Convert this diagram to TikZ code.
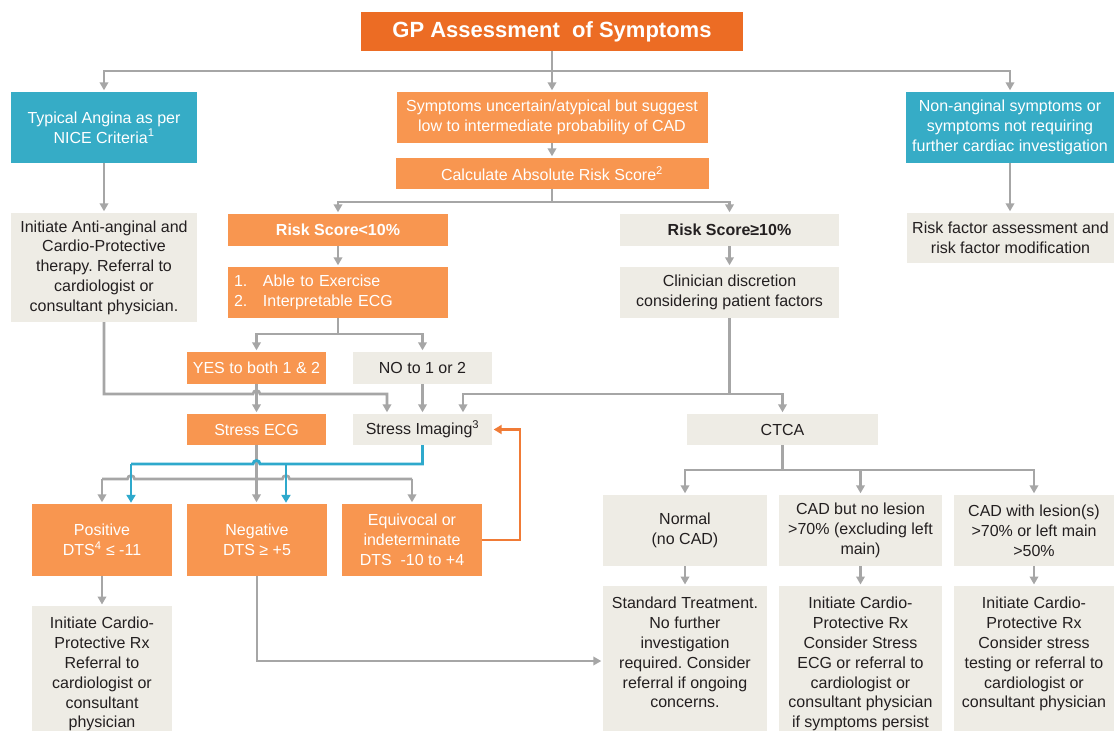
\documentclass[tikz,border=0pt]{standalone}
\usepackage{fontspec}
\setmainfont{Liberation Sans}
\usetikzlibrary{arrows.meta}
\definecolor{titleor}{HTML}{EC6C24}
\definecolor{lor}{HTML}{F89650}
\definecolor{tealc}{HTML}{36ACC6}
\definecolor{beige}{HTML}{EEECE5}
\definecolor{txtc}{HTML}{231F20}
\definecolor{lgray}{HTML}{A6A6A6}
\definecolor{lblue}{HTML}{2EA9CC}
\definecolor{orline}{HTML}{F07B36}
\frenchspacing
\begin{document}
\begin{tikzpicture}[x=1pt,y=-1pt,
  box/.style={draw=none, inner sep=0pt, align=center, font=\fontsize{16}{19.8}\selectfont},
  obox/.style={box, fill=lor, text=white},
  tbox/.style={box, fill=tealc, text=white},
  bbox/.style={box, fill=beige, text=txtc},
  txtn/.style={inner sep=0pt, align=center, font=\fontsize{16}{19.8}\selectfont, text=txtc, anchor=north},
  gl/.style={draw=lgray, line width=2.6pt},
  garr/.style={gl, -{Triangle[width=8.5pt,length=8pt]}, shorten >=1.5pt},
  bl/.style={draw=lblue, line width=2.8pt},
  barr/.style={bl, -{Triangle[width=9pt,length=8pt]}, shorten >=1pt},
  oarr/.style={draw=orline, line width=2.6pt, -{Triangle[width=9pt,length=8pt]}, shorten >=1.5pt},
]
\useasboundingbox[fill=white] (0,0) rectangle (1114,731);

% ---- boxes ----
\node[box, fill=titleor, text=white, minimum width=382pt, minimum height=39pt, font=\fontsize{22}{26}\selectfont\bfseries] (title) at (552,31.5) {GP Assessment~ of Symptoms};
\node[tbox, minimum width=186pt, minimum height=71pt] (typ) at (104,127.5) {Typical Angina as per\\NICE Criteria\textsuperscript{1}};
\node[obox, minimum width=311pt, minimum height=51pt] (sym) at (552,117.5) {Symptoms uncertain/atypical but suggest\\low to intermediate probability of CAD};
\node[tbox, minimum width=208pt, minimum height=71pt] (non) at (1010,127.5) {Non-anginal symptoms or\\symptoms not requiring\\further cardiac investigation};
\node[obox, minimum width=313pt, minimum height=31pt] (calc) at (552,173.5) {Calculate Absolute Risk Score\textsuperscript{2}};
\node[bbox, minimum width=186pt, minimum height=109pt] (anti) at (104,267.5) {Initiate Anti-anginal and\\Cardio-Protective\\therapy. Referral to\\cardiologist or\\consultant physician.};
\node[bbox, minimum width=207pt, minimum height=50pt] (rf) at (1010.5,238) {Risk factor assessment and\\risk factor modification};
\node[obox, minimum width=220pt, minimum height=32pt, font=\fontsize{16}{19.8}\selectfont\bfseries] (lt10) at (338,230) {Risk Score<10\%};
\node[bbox, minimum width=219pt, minimum height=32pt, font=\fontsize{16}{19.8}\selectfont\bfseries] (ge10) at (729.5,230) {Risk Score≥10\%};
\node[obox, minimum width=220pt, minimum height=51pt, align=left, text width=208pt] (ex) at (338,292.5) {\makebox[29pt][l]{1.}Able to Exercise\\\makebox[29pt][l]{2.}Interpretable ECG};
\node[bbox, minimum width=219pt, minimum height=51pt] (clin) at (729.5,292.5) {Clinician discretion\\considering patient factors};
\node[obox, minimum width=139pt, minimum height=32pt] (yes) at (256.5,368) {YES to both 1 \& 2};
\node[bbox, minimum width=139pt, minimum height=32pt] (no) at (422.5,368) {NO to 1 or 2};
\node[obox, minimum width=139pt, minimum height=31pt] (secg) at (256.5,429.5) {Stress ECG};
\node[bbox, minimum width=139pt, minimum height=31pt] (simg) at (422.5,429.5) {Stress Imaging\textsuperscript{3}};
\node[bbox, minimum width=191pt, minimum height=31pt] (ctca) at (782.5,429.5) {CTCA};
\node[obox, minimum width=140pt, minimum height=72pt] (pos) at (102,540) {Positive\\DTS\textsuperscript{4} ≤ -11};
\node[obox, minimum width=140pt, minimum height=72pt] (neg) at (257,540) {Negative\\DTS ≥ +5};
\node[obox, minimum width=140pt, minimum height=72pt] (eqv) at (412,540) {Equivocal or\\indeterminate\\DTS~ -10 to +4};
\node[bbox, minimum width=164pt, minimum height=71pt] (norm) at (685,530.5) {Normal\\(no CAD)};
\node[bbox, minimum width=163pt, minimum height=71pt] (cadno) at (860.5,530.5) {CAD but no lesion\\>70\% (excluding left\\main)};
\node[bbox, minimum width=160pt, minimum height=71pt] (cadw) at (1034,530.5) {CAD with lesion(s)\\>70\% or left main\\>50\%};

% bottom boxes with top-aligned text
\node[bbox, minimum width=140pt, minimum height=125pt, anchor=north] (icp) at (102,606) {};
\node[txtn] (icpt) at ([yshift=-11pt]icp.north) {Initiate Cardio-\\Protective Rx\\Referral to\\cardiologist or\\consultant\\physician};
\node[bbox, minimum width=164pt, minimum height=145pt, anchor=north] (std) at (685,586) {};
\node[txtn] (stdt) at ([yshift=-11pt]std.north) {Standard Treatment.\\No further\\investigation\\required. Consider\\referral if ongoing\\concerns.};
\node[bbox, minimum width=163pt, minimum height=145pt, anchor=north] (icp2) at (860.5,586) {};
\node[txtn] (icp2t) at ([yshift=-11pt]icp2.north) {Initiate Cardio-\\Protective Rx\\Consider Stress\\ECG or referral to\\cardiologist or\\consultant physician\\if symptoms persist};
\node[bbox, minimum width=160pt, minimum height=145pt, anchor=north] (icp3) at (1034,586) {};
\node[txtn] (icp3t) at ([yshift=-11pt]icp3.north) {Initiate Cardio-\\Protective Rx\\Consider stress\\testing or referral to\\cardiologist or\\consultant physician};

% ---- helper coordinates ----
\coordinate (h71) at (0,71);
\coordinate (h202) at (0,202);
\coordinate (h334) at (0,334);
\coordinate (h394) at (0,394);
\coordinate (h464) at (0,464);
\coordinate (h479) at (0,479);
\coordinate (h470) at (0,470);
\coordinate (h661) at (0,661);
\coordinate (xl) at (387,0);
\coordinate (xr) at (463,0);
\coordinate (bx1) at (131,464);
\coordinate (bx2) at (286,464);
\coordinate (ox) at (520,0);

% ---- connectors ----
% title split
\draw[gl] (title.south) -- (title.south |- h71);
\draw[garr] (title.south |- h71) -| (typ.north);
\draw[garr] (title.south |- h71) -| (non.north);
\draw[garr] (title.south |- h71) -- (sym.north);
\draw[garr] (sym.south) -- (calc.north);
\draw[garr] (typ.south) -- (typ.south |- anti.north);
\draw[garr] (non.south) -- (non.south |- rf.north);
% calc split
\draw[gl] (calc.south) -- (calc.south |- h202);
\draw[garr] (calc.south |- h202) -| (lt10.north);
\draw[garr] (calc.south |- h202) -| (ge10.north);
\draw[garr] (lt10.south) -- (ex.north);
\draw[garr] (ge10.south) -- (clin.north);
% exercise split
\draw[gl] (ex.south) -- (ex.south |- h334);
\draw[garr] (ex.south |- h334) -| (yes.north);
\draw[garr] (ex.south |- h334) -| (no.north);
\draw[garr] (yes.south) -- (secg.north);
\draw[garr] (no.south) -- (simg.north);
% left column to stress imaging (hop over YES line)
\draw[garr] (anti.south) -- (anti.south |- h394) -- (253,394) arc[start angle=180, end angle=360, radius=3.5] -- (xl |- h394) -- (xl |- simg.north);
% clinician to stress imaging and CTCA
\draw[gl] (clin.south) -- (clin.south |- h394);
\draw[garr] (clin.south |- h394) -- (xr |- h394) -- (xr |- simg.north);
\draw[garr] (clin.south |- h394) -| (ctca.north);
% stress ECG outcomes (gray)
\draw[garr] (secg.south) -- (secg.south |- neg.north);
\draw[gl] (pos.north |- h479) -- (127.5,479) arc[start angle=180, end angle=360, radius=3.5] -- (282.5,479) arc[start angle=180, end angle=360, radius=3.5] -- (eqv.north |- h479);
\draw[garr] (pos.north |- h479) -- (pos.north);
\draw[garr] (eqv.north |- h479) -- (eqv.north);
% stress imaging outcomes (blue)
\draw[bl] (simg.south) -- (simg.south |- h464) -- (260,464) arc[start angle=0, end angle=-180, radius=3.5] -- (bx1);
\draw[barr] (bx1) -- (bx1 |- pos.north);
\draw[barr] (bx2) -- (bx2 |- neg.north);
% equivocal back to stress imaging (orange)
\draw[oarr] (eqv.east) -- (eqv.east -| ox) -- (ox |- simg.east) -- (simg.east);
% positive to treatment
\draw[garr] (pos.south) -- (icp.north);
% negative to standard treatment
\draw[garr] (neg.south) -- (neg.south |- h661) -- (std.west |- h661);
% CTCA split
\draw[gl] (ctca.south) -- (ctca.south |- h470);
\draw[garr] (ctca.south |- h470) -| (norm.north);
\draw[garr] (ctca.south |- h470) -| (cadno.north);
\draw[garr] (ctca.south |- h470) -| (cadw.north);
\draw[garr] (norm.south) -- (std.north);
\draw[garr] (cadno.south) -- (icp2.north);
\draw[garr] (cadw.south) -- (icp3.north);
\end{tikzpicture}
\end{document}
